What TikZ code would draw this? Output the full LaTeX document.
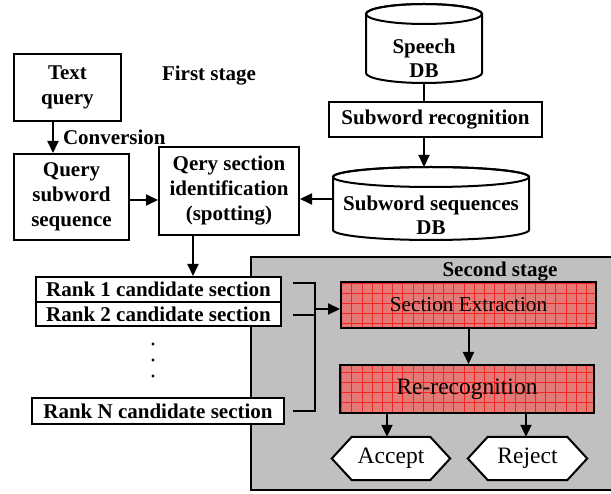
\documentclass[tikz,border=0pt]{standalone}
\usepackage{fontspec}
\setmainfont{LiberationSerif}[Extension=.ttf, UprightFont=*-Regular, BoldFont=*-Bold, ItalicFont=*-Italic, BoldItalicFont=*-BoldItalic]
\usetikzlibrary{arrows.meta}
\pgfdeclarelayer{back}
\pgfdeclarelayer{shapes}
\pgfsetlayers{back,shapes,main}
\definecolor{stagegray}{RGB}{192,192,192}
\definecolor{salmon}{RGB}{228,122,118}
\definecolor{gridred}{RGB}{245,35,35}
\begin{document}
\begin{tikzpicture}[x=1pt,y=-1pt,
  lw/.style={line width=2pt},
  box/.style={draw, lw, fill=white, inner sep=0pt, align=center,
    font=\bfseries\fontsize{21}{25}\selectfont},
  txt/.style={inner sep=0pt, align=center, font=\bfseries\fontsize{21}{24}\selectfont},
  plain/.style={inner sep=0pt, align=center, font=\fontsize{23.5}{26}\selectfont},
  redbox/.style={inner sep=0pt, align=center},
  arr/.style={lw, -{Triangle[length=12pt,width=11pt]}},
  wire/.style={lw}]
\useasboundingbox (0,0) rectangle (611,494);

% ---- second stage background ----
\begin{pgfonlayer}{back}
  \draw[line width=1.5pt, fill=stagegray] (251,257) rectangle (613,490);
\end{pgfonlayer}

% ---- first stage ----
\node[box, minimum width=107, minimum height=67] (tq) at (67.5,87.5) {Text\\query};
\node[txt] (fs) at (209,76) {First stage};
\node[box, minimum width=115, minimum height=86] (qs) at (71.5,197) {Query\\subword\\sequence};
\node[box, minimum width=140, minimum height=88] (qid) at (229,191) {Qery section\\identification\\(spotting)};

\draw[arr] ([xshift=-14.5pt]tq.south) -- ([xshift=-14.5pt]tq.south |- qs.north)
  node[txt, anchor=west, pos=0.5, xshift=9pt] (conv) {Conversion};
\draw[arr] ([yshift=-3pt]qs.east) -- ([yshift=-3pt]qs.east -| qid.west);

% Speech DB cylinder
\filldraw[lw, fill=white] (366,14) -- (366,73) arc[start angle=180, end angle=0, x radius=58, y radius=10]
  -- (482,14) arc[start angle=0, end angle=-180, x radius=58, y radius=10] -- cycle;
\draw[lw] (424,14) ellipse[x radius=58, y radius=10];
\coordinate (speechbot) at (424,83);
\node[txt] (speech) at (424,58) {Speech\\DB};

\node[box, minimum width=213, minimum height=35] (srec) at (435.5,119.5) {Subword recognition};
\draw[wire] (speechbot) -- (speechbot |- srec.north);

% Subword sequences DB cylinder
\filldraw[lw, fill=white] (333,177) -- (333,230) arc[start angle=180, end angle=0, x radius=98, y radius=10]
  -- (529,177) arc[start angle=0, end angle=-180, x radius=98, y radius=10] -- cycle;
\draw[lw] (431,177) ellipse[x radius=98, y radius=10];
\coordinate (ssdbtop) at (424,167);
\coordinate (ssdbwest) at (333,199);
\node[txt] (ssdb) at (431,215) {Subword sequences\\DB};

\draw[arr] (ssdbtop |- srec.south) -- (ssdbtop);
\draw[arr] (ssdbwest) -- (ssdbwest -| qid.east);

% ---- candidate list ----
\node[box, minimum width=245, minimum height=25, font=\bfseries\fontsize{21}{21}\selectfont] (r1) at (158.5,289.5) {Rank 1 candidate section};
\node[box, minimum width=245, minimum height=24, font=\bfseries\fontsize{21}{21}\selectfont] (r2) at (158.5,314) {Rank 2 candidate section};
\node[box, minimum width=252, minimum height=26, font=\bfseries\fontsize{21}{21}\selectfont] (rn) at (158,411) {Rank N candidate section};
\foreach \yy in {344,360,376} \fill (153,\yy) circle[radius=1.6];

\draw[arr] ([xshift=-36pt]qid.south) -- ([xshift=-36pt]qid.south |- r1.north);

% ---- second stage ----
\node[txt] (ss) at (500,272) {Second stage};

\begin{scope}
  \fill[salmon] (341,282) rectangle (596,328);
  \clip (341,282) rectangle (596,328);
  \draw[gridred, line width=0.7pt, xstep=10.2pt, ystep=10pt, shift={(5,3)}] (330,270) grid (610,340);
\end{scope}
\node[draw, lw, redbox, minimum width=255, minimum height=46, font=\fontsize{21.2}{24}\selectfont] (se) at (468.5,305) {Section Extraction};

\begin{scope}
  \fill[salmon] (340,365) rectangle (594,413);
  \clip (340,365) rectangle (594,413);
  \draw[gridred, line width=0.7pt, xstep=10.2pt, ystep=10pt, shift={(5,2)}] (330,355) grid (610,420);
\end{scope}
\node[draw, lw, redbox, minimum width=254, minimum height=48, font=\fontsize{23.5}{26}\selectfont] (rr) at (467,389) {Re-recognition};

% bracket collecting the candidates
\coordinate (bx) at (315,309);
\draw[wire] ([xshift=11pt]r1.east |- 0,283) -| (bx |- rn.east) -- ([xshift=8pt]rn.east);
\draw[wire] ([xshift=11pt]r2.east |- 0,315) -- (bx |- 0,315);
\draw[arr] (bx) -- (bx -| se.west);

\draw[arr] (se.south) -- (se.south |- rr.north);

% decision hexagons
\node[plain, minimum width=118, minimum height=43] (acc) at (391,458.5) {Accept};
\node[plain, minimum width=119, minimum height=43] (rej) at (527.5,458.5) {Reject};
\begin{pgfonlayer}{shapes}
  \foreach \n in {acc,rej}
    \filldraw[lw, fill=white] (\n.west) -- ([xshift=20pt]\n.north west) -- ([xshift=-20pt]\n.north east)
      -- (\n.east) -- ([xshift=-20pt]\n.south east) -- ([xshift=20pt]\n.south west) -- cycle;
\end{pgfonlayer}

\draw[arr] ([xshift=-80pt]rr.south) -- ([xshift=-80pt]rr.south |- acc.north);
\draw[arr] ([xshift=59pt]rr.south) -- ([xshift=59pt]rr.south |- rej.north);
\end{tikzpicture}
\end{document}
